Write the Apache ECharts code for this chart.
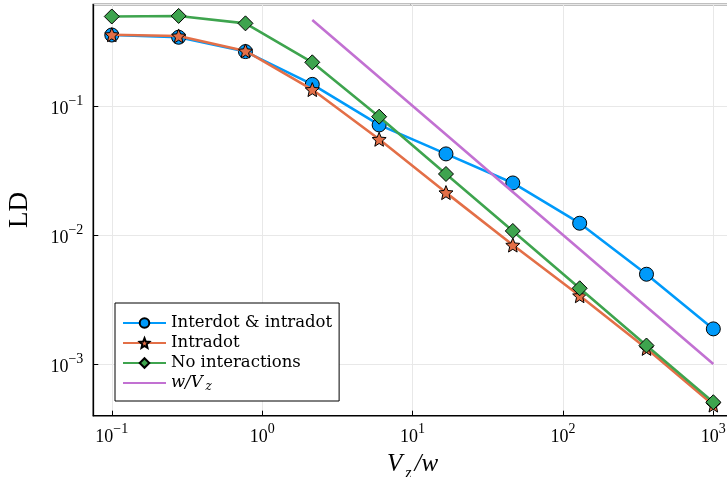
<!DOCTYPE html>
<html>
<head>
<meta charset="utf-8">
<script src="https://cdn.jsdelivr.net/npm/echarts@6/dist/echarts.min.js"></script>
<style>
  html, body { margin: 0; padding: 0; background: #fff; }
  #chart { width: 727px; height: 477px; }
</style>
</head>
<body>
<div id="chart"></div>
<script>
// Sample points V_z/w (log-spaced) and the LD values of each model
const xVals = [0.1, 0.2783, 0.7743, 2.154, 5.995, 16.68, 46.42, 129.2, 359.4, 1000];
const interIntra = [0.355, 0.341, 0.264, 0.147, 0.0713, 0.0425, 0.0253, 0.01233, 0.00496, 0.00187];
const intraOnly = [0.357, 0.349, 0.267, 0.134, 0.0552, 0.0213, 0.00835, 0.00338, 0.00132, 0.00048];
const noInter = [0.494, 0.499, 0.437, 0.218, 0.0826, 0.0297, 0.01074, 0.00386, 0.00139, 0.000505];
// Reference scaling w/V_z
const refX = [2.154, 5.995, 16.68, 46.42, 129.2, 359.4, 1000];
const refY = [0.464, 0.1668, 0.0600, 0.02154, 0.00774, 0.00278, 0.001];
const seriesNames = ['Interdot & intradot', 'Intradot', 'No interactions', 'w/V_z'];

const FONT = 'Liberation Serif';
const LEGEND_FONT = 'DejaVu Serif';
const zip = (xs, ys) => xs.map((x, i) => [x, ys[i]]);
const STAR = 'path://M0,-1 L0.265,-0.364 L0.951,-0.309 L0.428,0.139 L0.588,0.809 L0,0.45 L-0.588,0.809 L-0.428,0.139 L-0.951,-0.309 L-0.265,-0.364 Z';

// 10^n labels only at whole decades
function decadeLabel(v) {
  const lg = Math.log10(v);
  const n = Math.round(lg);
  if (Math.abs(lg - n) > 1e-6) return '';
  return '{b|10}{s|' + String(n).replace('-', '\u2212') + '}';
}
const tickRich = {
  b: { fontFamily: FONT, fontSize: 18, color: '#000', lineHeight: 24, verticalAlign: 'bottom' },
  s: { fontFamily: FONT, fontSize: 14, color: '#000', lineHeight: 14, verticalAlign: 'top' }
};

const chart = echarts.init(document.getElementById('chart'), null, { renderer: 'canvas' });

const mk = (name, data, color, symbol, size, z) => ({
  name, type: 'line', data, z,
  symbol, symbolSize: size, showSymbol: symbol !== 'none',
  lineStyle: { color, width: 2.6 },
  itemStyle: { color, borderColor: '#000', borderWidth: 1 },
  emphasis: { disabled: true },
  animation: false
});

chart.setOption({
  animation: false,
  backgroundColor: '#fff',
  grid: {
    left: 93.3, top: 4.5, width: 638.5, height: 411.2,
    outerBoundsMode: 'none', containLabel: false,
    show: true, borderColor: '#000', borderWidth: 1.5, backgroundColor: 'transparent'
  },
  xAxis: {
    type: 'log', logBase: 10, min: 0.07534, max: 1327,
    name: '{v|V}{z|z}{v|/w}', nameLocation: 'middle', nameGap: 36,
    nameTextStyle: {
      rich: {
        v: { fontFamily: FONT, fontStyle: 'italic', fontSize: 25, color: '#000', lineHeight: 26, verticalAlign: 'top' },
        z: { fontFamily: FONT, fontStyle: 'italic', fontSize: 16, color: '#000', lineHeight: 30, verticalAlign: 'bottom', padding: [0, 3, 0, 3] }
      }
    },
    axisLine: { lineStyle: { color: '#000', width: 1.2 } },
    axisTick: { inside: true, length: 5, lineStyle: { color: '#000', width: 1 } },
    axisLabel: { formatter: decadeLabel, rich: tickRich, margin: 7, showMinLabel: false, showMaxLabel: false },
    splitLine: { show: true, lineStyle: { color: '#e8e8e8', width: 1 } },
    minorTick: { show: false }
  },
  yAxis: {
    type: 'log', logBase: 10, min: 0.000397, max: 0.6119,
    name: 'LD', nameLocation: 'middle', nameGap: 60, nameRotate: 90,
    nameTextStyle: { fontFamily: FONT, fontSize: 27, color: '#000', lineHeight: 27 },
    axisLine: { lineStyle: { color: '#000', width: 1.2 } },
    axisTick: { inside: true, length: 5, lineStyle: { color: '#000', width: 1 } },
    axisLabel: { formatter: decadeLabel, rich: tickRich, margin: 10, showMinLabel: false, showMaxLabel: false },
    splitLine: { show: true, lineStyle: { color: '#e8e8e8', width: 1 } }
  },
  legend: {
    orient: 'vertical', left: 115, top: 303,
    padding: [10, 7, 8, 7],
    backgroundColor: '#fff', borderColor: '#000', borderWidth: 1, borderRadius: 0,
    itemWidth: 43, itemHeight: 12, itemGap: 0,
    data: [
      seriesNames[0], seriesNames[1], seriesNames[2],
      { name: seriesNames[3], itemStyle: { opacity: 0 } }
    ],
    formatter: name => name === 'w/V_z' ? '{i|w/V}{sub|z}' : name,
    textStyle: {
      fontFamily: LEGEND_FONT, fontSize: 16.5, color: '#000', lineHeight: 20,
      rich: {
        i: { fontFamily: LEGEND_FONT, fontStyle: 'italic', fontSize: 16.5, color: '#000', lineHeight: 20 },
        sub: { fontFamily: LEGEND_FONT, fontStyle: 'italic', fontSize: 12, color: '#000', lineHeight: 20, verticalAlign: 'bottom', padding: [6, 0, 0, 3] }
      }
    }
  },
  series: [
    mk(seriesNames[0], zip(xVals, interIntra), '#009AFA', 'circle', 14, 2),
    mk(seriesNames[1], zip(xVals, intraOnly), '#E36F47', STAR, 14, 3),
    mk(seriesNames[2], zip(xVals, noInter), '#3EA44E', 'diamond', 15, 4),
    mk(seriesNames[3], zip(refX, refY), '#C271D2', 'none', 0, 5)
  ]
});
</script>
</body>
</html>
